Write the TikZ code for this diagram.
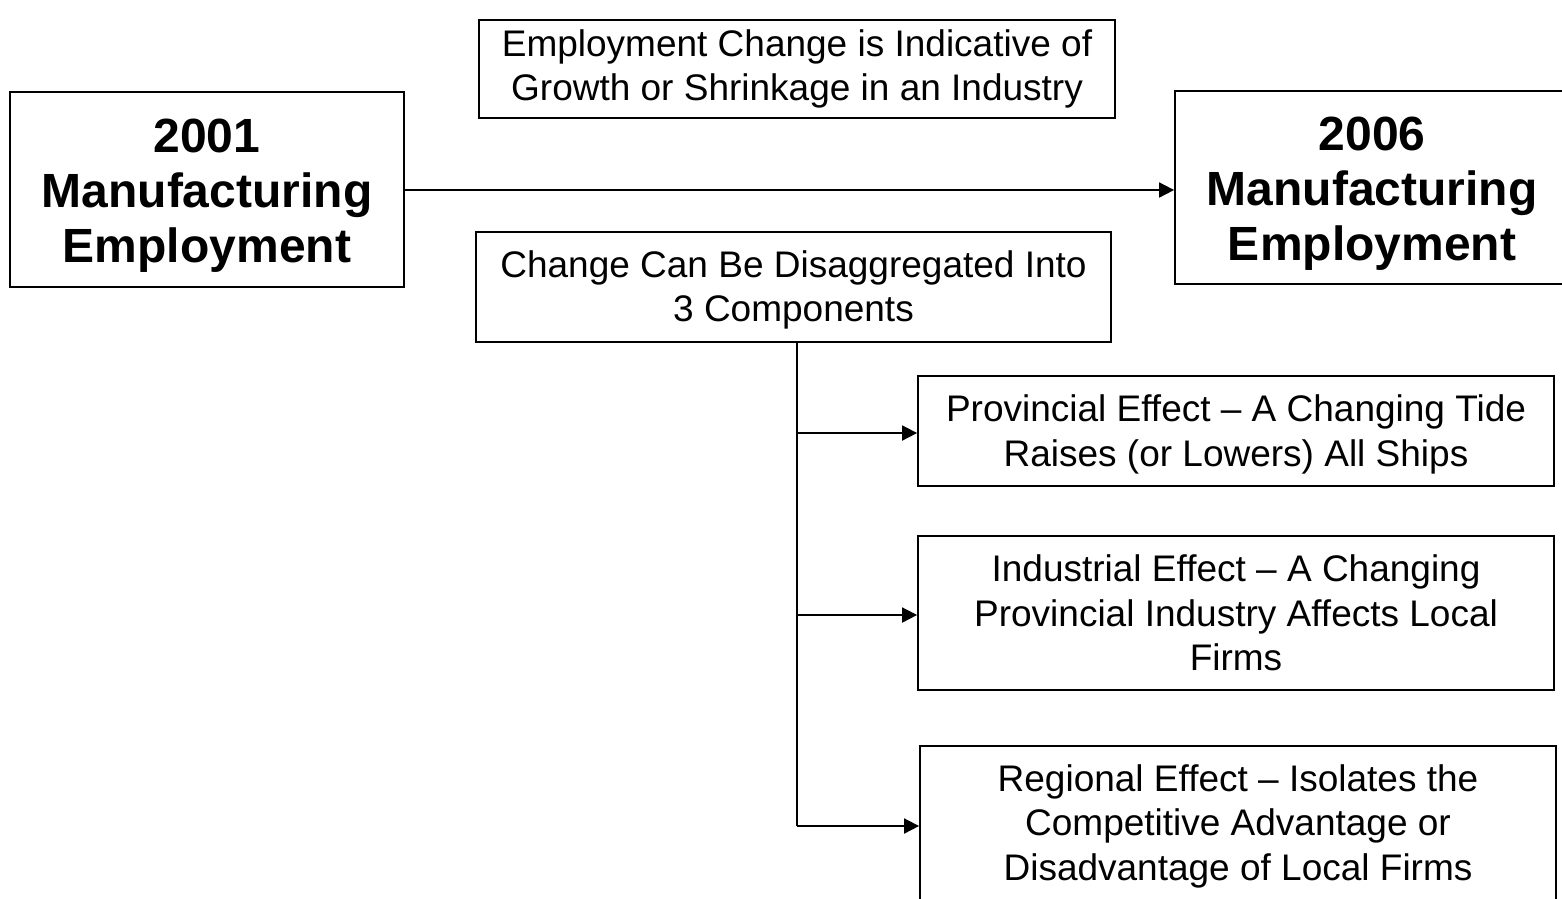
\documentclass[tikz,border=0pt]{standalone}
\usepackage{fontspec}
\setmainfont{Liberation Sans}
\usetikzlibrary{arrows.meta}
\begin{document}
\begin{tikzpicture}[x=1pt,y=-1pt,
  box/.style={draw=black,line width=1.8pt,align=center,inner sep=0pt,fill=white},
  bigtext/.style={font=\fontsize{48}{55}\selectfont\bfseries},
  smalltext/.style={font=\fontsize{37}{44.5}\selectfont},
  arr/.style={line width=1.8pt,-{Triangle[length=15pt,width=15pt]}},
  ln/.style={line width=1.8pt}]
\useasboundingbox (0,0) rectangle (1562,898);
\node[box,bigtext,minimum width=394pt,minimum height=195pt] (y01) at (207,189.5) {\rule{0pt}{45pt}2001\\Manufacturing\\Employment};
\node[box,bigtext,minimum width=394pt,minimum height=193pt] (y06) at (1372,187.5) {\rule{0pt}{45pt}2006\\Manufacturing\\Employment};
\node[box,smalltext,minimum width=636pt,minimum height=98pt] (top) at (797,69) {Employment Change is Indicative of\\Growth or Shrinkage in an Industry};
\node[box,smalltext,minimum width=635pt,minimum height=110pt] (mid) at (793.5,287) {\rule{0pt}{33pt}Change Can Be Disaggregated Into\\3 Components};
\node[box,smalltext,minimum width=636pt,minimum height=110pt] (prov) at (1236,431) {\rule{0pt}{34pt}Provincial Effect -- A Changing Tide\\Raises (or Lowers) All Ships};
\node[box,smalltext,minimum width=636pt,minimum height=154pt] (ind) at (1236,613) {Industrial Effect -- A Changing\\Provincial Industry Affects Local\\Firms};
\node[box,smalltext,minimum width=636pt,minimum height=160pt] (reg) at (1238,826) {Regional Effect -- Isolates the\\Competitive Advantage or\\Disadvantage of Local Firms};
\coordinate (b1) at (797,433);
\coordinate (b2) at (797,615);
\coordinate (b3) at (797,826);
\draw[arr] (y01.east |- 0,190) -- (y06.west |- 0,190);
\draw[ln] (mid.south -| b1) -- (b3);
\draw[arr] (b1) -- (b1 -| prov.west);
\draw[arr] (b2) -- (b2 -| ind.west);
\draw[arr] (b3) -- (b3 -| reg.west);
\end{tikzpicture}
\end{document}
